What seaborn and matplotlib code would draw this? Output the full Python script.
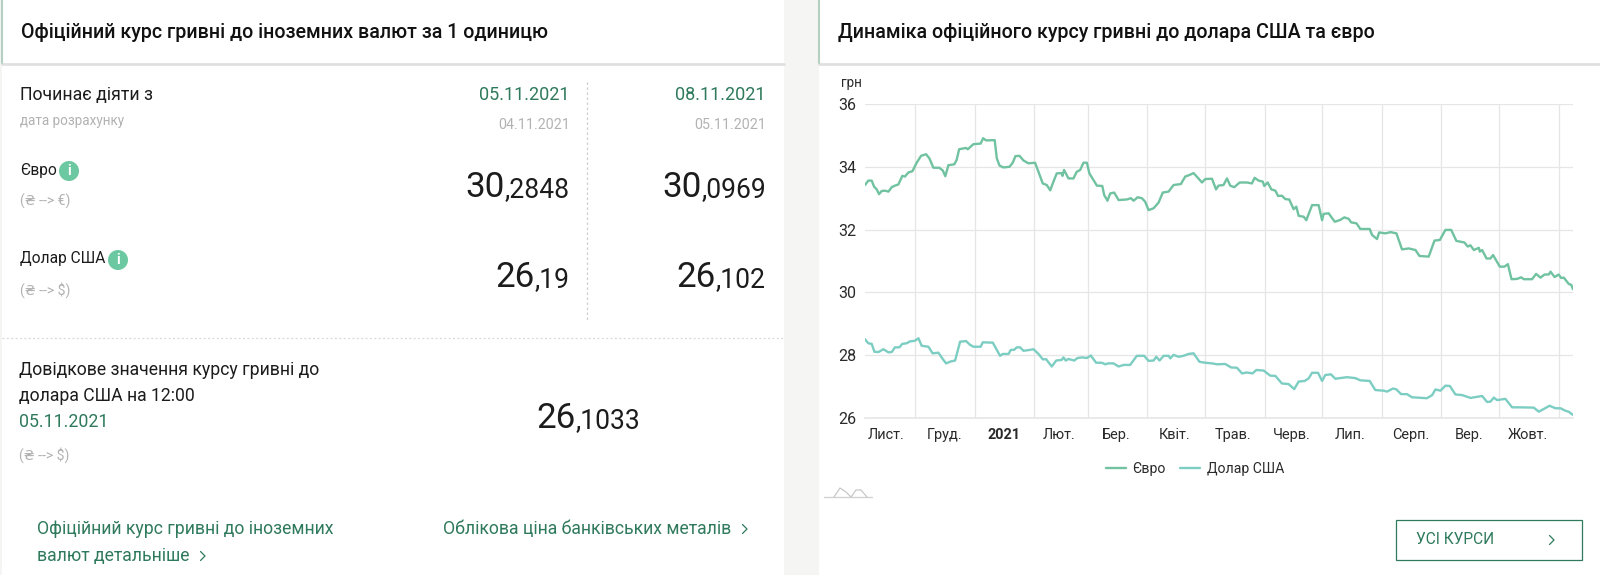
import matplotlib
matplotlib.use("Agg")
import matplotlib.pyplot as plt
import pandas as pd
import seaborn as sns
from matplotlib.patches import Circle, Rectangle

# days counted from the first date on the chart
START_DATE = "2020-11-05"
END_DAY = 368.5

euro_days = [0, 1.7, 3.5, 4.7, 6.1, 7.3, 8.7, 10.4, 12.2, 13.9, 15.6, 17.4, 19.4, 20.8, 22.6, 24.7, 26.9, 29.2,
             31.8, 33.5, 35.6, 38.7, 40.5, 41.8, 43.4, 46.5, 47.7, 49, 52.6, 53.5, 56.4, 60.2, 61.5, 63, 67.5,
             68.6, 70, 72, 75.2, 76.9, 78.3, 80.4, 82.5, 85.1, 88.5, 90.3, 92.5, 94.6, 96.4, 98.1, 99.8, 102.3,
             102.8, 103.6, 105.9, 108.5, 110.2, 112, 113.7, 115.5, 116.8, 118.9, 120.7, 123.5, 124.5, 126.2,
             127.6, 129.7, 132, 136.3, 138.4, 139.8, 141.9, 144.1, 145.8, 147.6, 150.2, 152.8, 155, 158, 160.6,
             164.4, 166.7, 168.9, 171, 173.1, 175.4, 177.1, 180.6, 182.7, 184, 186.6, 188.4, 190.1, 192.2, 195,
             198.8, 201.4, 202.8, 204.9, 207, 207.8, 209.6, 211.5, 213.6, 215, 217, 218.8, 220.8, 223.1, 224.5,
             225.7, 228.3, 229.7, 232.7, 236.1, 237.9, 238.7, 241.3, 244.5, 247.4, 249.5, 251.8, 253, 255.8,
             257.8, 262.7, 263.9, 266.5, 267.6, 270.9, 273.5, 276.6, 279.5, 283, 286.5, 288.6, 293.4, 296.4,
             299.2, 302.1, 305.1, 307.8, 312, 313.7, 315.1, 316.9, 319.5, 320, 321.2, 323.5, 325.5, 326.9,
             330.4, 332.8, 334.6, 336.5, 339.4, 341.5, 342.9, 347.2, 349.3, 351.6, 353.7, 355.9, 356.8, 358.9,
             361.1, 362.3, 363.7, 366.3, 367.6, 368.5]
euro_values = [33.42, 33.56, 33.56, 33.37, 33.28, 33.13, 33.23, 33.24, 33.21, 33.35, 33.40, 33.44, 33.71, 33.69,
               33.82, 33.86, 34.13, 34.35, 34.40, 34.27, 33.97, 33.97, 33.88, 33.70, 34.05, 34.08, 34.22, 34.56,
               34.60, 34.56, 34.72, 34.74, 34.91, 34.84, 34.85, 34.27, 34.04, 33.98, 34.00, 34.13, 34.34, 34.35,
               34.20, 34.11, 34.13, 33.84, 33.47, 33.42, 33.25, 33.53, 33.79, 33.80, 33.71, 33.90, 33.63, 33.63,
               33.84, 33.90, 34.13, 34.13, 33.79, 33.58, 33.40, 33.39, 33.10, 32.92, 33.15, 33.18, 32.94, 32.96,
               33.00, 32.92, 33.03, 33.00, 32.89, 32.62, 32.68, 32.86, 33.18, 33.21, 33.42, 33.45, 33.69, 33.74,
               33.80, 33.66, 33.50, 33.61, 33.62, 33.28, 33.40, 33.42, 33.63, 33.40, 33.35, 33.50, 33.50, 33.47,
               33.65, 33.56, 33.53, 33.39, 33.50, 33.28, 33.24, 33.07, 33.08, 32.97, 32.96, 32.65, 32.73, 32.44,
               32.41, 32.30, 32.78, 32.78, 32.30, 32.50, 32.52, 32.25, 32.31, 32.39, 32.34, 32.23, 32.20, 32.02,
               32.02, 31.83, 31.70, 31.91, 31.88, 31.92, 31.88, 31.37, 31.40, 31.35, 31.16, 31.14, 31.65, 31.67,
               31.99, 31.99, 31.64, 31.59, 31.46, 31.50, 31.35, 31.42, 31.30, 31.35, 31.08, 31.08, 31.19, 30.82,
               30.82, 30.90, 30.42, 30.43, 30.48, 30.42, 30.42, 30.59, 30.47, 30.57, 30.57, 30.66, 30.49, 30.57,
               30.46, 30.47, 30.27, 30.24, 30.10]

usd_days = [0, 1.7, 3.5, 4.9, 7, 9.6, 12.2, 13.9, 15.6, 17.9, 19.4, 21.7, 23.4, 26, 27.8, 29.5, 33, 35.2, 38.2,
            40.8, 42.2, 44.6, 46.9, 49.5, 52.6, 54.7, 56.4, 60.2, 61.3, 66.5, 68.6, 70.3, 71.7, 74.7, 75.9, 77.6,
            79, 80.7, 82.5, 85.9, 87.7, 90.3, 92.5, 94.3, 97.2, 99.5, 102.4, 103.3, 104.5, 105.9, 108.9, 110.6,
            112.9, 115.5, 117.5, 120.3, 123.3, 125, 126.7, 129.3, 132, 134.6, 138, 141.5, 145.3, 147.6, 150.2,
            151.6, 153.3, 155.4, 158, 158.9, 160.6, 163.2, 165.8, 168.4, 171, 174.1, 177.1, 180.6, 183.2, 187.5,
            190.5, 193.6, 196.2, 198.8, 201.7, 203.7, 207.5, 210.9, 213.6, 217, 220.5, 223.4, 225.7, 228.8,
            230.9, 232.7, 235.8, 237.9, 239.6, 242.5, 244.8, 250.9, 255.2, 257.8, 262.7, 265.6, 270, 271.7,
            274.8, 276.6, 279, 282.1, 284.7, 292.5, 295.2, 296.9, 299.5, 302.1, 304.4, 307.3, 310.8, 315.1,
            321.2, 323.8, 325.5, 327.3, 329, 333.3, 336.8, 341.2, 348.1, 350.7, 353.3, 356.3, 359.4, 362,
            364.6, 366.3, 368.4]
usd_values = [28.51, 28.38, 28.36, 28.11, 28.10, 28.19, 28.09, 28.10, 28.25, 28.25, 28.36, 28.38, 28.44, 28.46,
              28.54, 28.30, 28.27, 28.06, 28.08, 27.85, 27.74, 27.80, 27.83, 28.43, 28.45, 28.33, 28.27, 28.27,
              28.41, 28.40, 28.17, 27.98, 28.04, 28.04, 28.17, 28.17, 28.25, 28.25, 28.14, 28.17, 28.19, 28.04,
              27.87, 27.87, 27.64, 27.83, 27.85, 27.93, 27.83, 27.88, 27.83, 27.91, 27.93, 27.91, 27.99, 27.76,
              27.76, 27.71, 27.74, 27.74, 27.64, 27.69, 27.69, 27.98, 27.98, 27.82, 27.83, 27.95, 27.83, 27.98,
              27.98, 27.90, 28.01, 27.95, 27.98, 28.04, 28.06, 27.79, 27.76, 27.74, 27.71, 27.72, 27.61, 27.60,
              27.42, 27.45, 27.42, 27.53, 27.51, 27.35, 27.34, 27.10, 27.08, 26.92, 27.16, 27.18, 27.26, 27.44,
              27.44, 27.18, 27.37, 27.39, 27.25, 27.30, 27.27, 27.20, 27.18, 26.89, 26.87, 26.84, 26.94, 26.91,
              26.76, 26.76, 26.66, 26.63, 26.73, 26.91, 26.87, 27.03, 27.02, 26.75, 26.73, 26.64, 26.70, 26.51,
              26.52, 26.65, 26.57, 26.61, 26.34, 26.34, 26.33, 26.20, 26.29, 26.39, 26.31, 26.31, 26.23, 26.20,
              26.10]

month_labels = ["Лист.", "Груд.", "2021", "Лют.", "Бер.", "Квіт.", "Трав.", "Черв.", "Лип.", "Серп.", "Вер.", "Жовт."]
month_label_days = [11, 41.6, 72.4, 101, 130.7, 161, 191.4, 222, 252.6, 283.9, 314.6, 344.8]
y_ticks = [26, 28, 30, 32, 34, 36]

TEXT = "#1c1c1c"
GREEN = "#2f7a5c"
GRAY = "#b2b2b2"
EURO_COLOR = "#70c2a0"
USD_COLOR = "#7ccdc2"
GRID = "#e6e6e6"
W, H = 1600, 575

sns.set_theme(style="white")
plt.rcParams["font.family"] = ["Roboto", "DejaVu Sans"]

fig = plt.figure(figsize=(W / 100, H / 100), dpi=100, facecolor="#f5f5f3")

# page layer in pixel coordinates
page = fig.add_axes([0, 0, 1, 1])
page.set_xlim(0, W)
page.set_ylim(H, 0)
page.axis("off")


def px(size):
    return size * 0.72


def label(x, y, s, size=16, color=TEXT, **kw):
    kw.setdefault("va", "center")
    return page.text(x, y, s, fontsize=px(size), color=color, **kw)


def big_number(right, base, whole, frac, big=35, small=26.5):
    # whole part in a big size, decimals smaller, both right-aligned on one baseline
    t = label(right, base, "," + frac, size=small, ha="right", va="baseline")
    box = t.get_window_extent(fig.canvas.get_renderer())
    label(box.x0, base, whole, size=big, ha="right", va="baseline")


def info_icon(x, y):
    page.add_patch(Circle((x, y), 10, color="#6cc8a0", lw=0))
    label(x, y, "i", size=14, color="white", ha="center", weight="bold")


def chevron(x, y, color=GREEN):
    page.plot([x - 2.5, x + 2, x - 2.5], [y - 4.5, y, y + 4.5], color=color, lw=0.9)


# panels
page.add_patch(Rectangle((2, 0), 782, H, color="white", lw=0))
page.add_patch(Rectangle((819, 0), W - 819, H, color="white", lw=0))
for x0, x1 in [(2, 784), (819, W)]:
    page.plot([x0, x1], [64, 64], color="#e0e0e0", lw=2)
    page.plot([x0, x0], [0, 63], color="#b5cfc0", lw=1.5)

label(21, 32, "Офіційний курс гривні до іноземних валют за 1 одиницю", size=19.7, weight="medium", color="#111111")
label(838, 32, "Динаміка офіційного курсу гривні до долара США та євро", size=19.7, weight="medium", color="#111111")

# left panel
label(20, 95, "Починає діяти з", size=17.7)
label(20, 121, "дата розрахунку", size=13.5, color=GRAY)
label(20, 170, "Євро", size=15.5)
info_icon(69, 171)
label(20, 201, "(₴ --> €)", size=14, color=GRAY)
label(20, 259, "Долар США", size=15.5)
info_icon(118, 260)
label(20, 290, "(₴ --> $)", size=14, color=GRAY)

label(570, 95, "05.11.2021", size=18, color=GREEN, ha="right")
label(570, 125, "04.11.2021", size=14.3, color=GRAY, ha="right")
label(766, 95, "08.11.2021", size=18, color=GREEN, ha="right")
label(766, 125, "05.11.2021", size=14.3, color=GRAY, ha="right")
big_number(570, 197, "30", "2848")
big_number(766, 197, "30", "0969")
big_number(570, 287, "26", "19")
big_number(766, 287, "26", "102")

page.plot([587, 587], [82, 320], color="#cfcfcf", lw=0.9, ls=(0, (2, 2)))
page.plot([2, 784], [338, 338], color="#d8d8d8", lw=0.9, ls=(0, (1.5, 2)))

label(19, 370, "Довідкове значення курсу гривні до", size=17.6)
label(19, 396, "долара США на 12:00", size=17.6)
label(19, 422, "05.11.2021", size=17.8, color=GREEN)
label(19, 455, "(₴ --> $)", size=14, color=GRAY)
big_number(640, 428, "26", "1033")

label(37, 529, "Офіційний курс гривні до іноземних", size=17.6, color=GREEN)
label(37, 556, "валют детальніше", size=17.6, color=GREEN)
chevron(203, 556)
label(443, 529, "Облікова ціна банківських металів", size=17.6, color=GREEN)
chevron(745, 529)

# button and the small logo under the chart
page.add_patch(Rectangle((1396, 520), 186, 40, fill=False, ec=GREEN, lw=0.9))
label(1416, 540, "УСІ КУРСИ", size=15.5, color=GREEN)
chevron(1552, 540)
page.plot([824, 872], [497, 497], color="#d2d2d2", lw=1)
page.plot([834, 840, 846, 851, 856, 861, 867], [497, 488, 492, 497, 490, 490, 497], color="#c8c8c8", lw=0.9)

# chart
start = pd.Timestamp(START_DATE)
frames = []
for name, days, values in [("Євро", euro_days, euro_values), ("Долар США", usd_days, usd_values)]:
    frames.append(pd.DataFrame({"date": start + pd.to_timedelta(days, unit="D"), "rate": values, "series": name}))
rates = pd.concat(frames, ignore_index=True)

ax = fig.add_axes([865 / W, 1 - 418 / H, (1573 - 865) / W, (418 - 104) / H])
ax.patch.set_alpha(0)
sns.lineplot(data=rates, x="date", y="rate", hue="series", hue_order=["Євро", "Долар США"],
             palette=[EURO_COLOR, USD_COLOR], estimator=None, sort=False, linewidth=1.7, ax=ax)

ax.set_xlim(start, start + pd.Timedelta(days=END_DAY))
ax.set_ylim(26, 36)
ax.set_xlabel("")
ax.set_ylabel("")
for side in ["top", "right", "left"]:
    ax.spines[side].set_visible(False)
ax.spines["bottom"].set_color(GRID)
ax.spines["bottom"].set_linewidth(1.2)

ax.set_xticks(pd.date_range("2020-12-01", "2021-11-01", freq="MS"))
ax.set_xticklabels([])
ax.set_xticks(start + pd.to_timedelta(month_label_days, unit="D"), minor=True)
ax.set_xticklabels(month_labels, minor=True, fontsize=px(14.5), color="#2a2a2a")
ax.tick_params(axis="x", which="both", length=0, pad=7)
ax.xaxis.get_minorticklabels()[2].set_fontweight("bold")
ax.set_yticks(y_ticks)
ax.set_yticklabels([str(v) for v in y_ticks], fontsize=px(16), color="#2a2a2a")
ax.tick_params(axis="y", length=0, pad=6)
ax.grid(True, which="major", color=GRID, lw=0.9)
ax.set_axisbelow(True)

label(841, 83, "грн", size=13.5, color="#2a2a2a")

ax.legend(loc="center", bbox_to_anchor=(0.466, 1 - (469 - 104) / (418 - 104)), ncol=2, frameon=False,
          fontsize=px(14), handlelength=1.4, columnspacing=1.0, handletextpad=0.5, labelcolor="#2a2a2a")

fig.savefig("out.png", dpi=100, facecolor=fig.get_facecolor())
